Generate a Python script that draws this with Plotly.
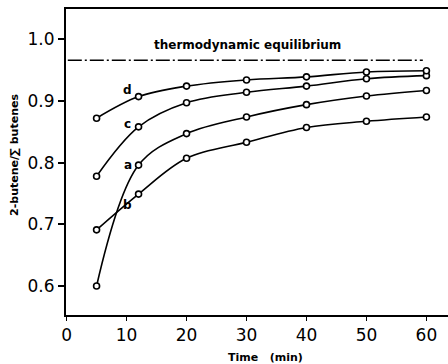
import plotly.graph_objects as go

# Reaction time (min) at which samples were taken
time_min = [5, 12, 20, 30, 40, 50, 60]

# 2-butene / sum of butenes for each run
run_a = [0.600, 0.796, 0.847, 0.874, 0.894, 0.908, 0.917]
run_b = [0.691, 0.749, 0.807, 0.833, 0.857, 0.867, 0.874]
run_c = [0.778, 0.858, 0.897, 0.914, 0.924, 0.936, 0.941]
run_d = [0.872, 0.907, 0.924, 0.934, 0.939, 0.947, 0.949]

runs = {"a": run_a, "b": run_b, "c": run_c, "d": run_d}
label_pos = {"d": 0.918, "c": 0.862, "a": 0.796, "b": 0.732}
label_x = 10.2

equilibrium = 0.966
equilibrium_span = [0.2, 59.4]

x_ticks = [0, 10, 20, 30, 40, 50, 60]
y_ticks = [0.6, 0.7, 0.8, 0.9, 1.0]

LABEL_FONT = "DejaVu Sans"
TICK_FONT = "DejaVu Sans"

fig = go.Figure()

for name, vals in runs.items():
    fig.add_trace(go.Scatter(
        x=time_min, y=vals, mode="lines+markers", name=name,
        line=dict(color="black", width=1.6, shape="spline", smoothing=1.0),
        marker=dict(symbol="circle", size=6, color="white",
                    line=dict(color="black", width=1.6)),
        showlegend=False,
    ))

# equilibrium reference line
fig.add_trace(go.Scatter(
    x=equilibrium_span, y=[equilibrium, equilibrium], mode="lines",
    line=dict(color="black", width=1.4, dash="14px,3px,2px,3px"),
    showlegend=False, hoverinfo="skip",
))

fig.add_annotation(x=30.1, y=0.991, text="<b>thermodynamic equilibrium</b>",
                   showarrow=False, font=dict(family=LABEL_FONT, size=12, color="black"))

for name, yv in label_pos.items():
    fig.add_annotation(x=label_x, y=yv, text=f"<b>{name}</b>", showarrow=False,
                       font=dict(family=LABEL_FONT, size=12, color="black"))

# axis titles
fig.add_annotation(xref="paper", yref="paper", x=0.521, y=-0.1405,
                   text="<b>Time   (min)</b>", showarrow=False,
                   xanchor="center", yanchor="middle",
                   font=dict(family=LABEL_FONT, size=11, color="black"))
fig.add_annotation(xref="paper", yref="paper", x=-0.1335, y=0.523,
                   text="<b>2-butene/∑ butenes</b>", showarrow=False, textangle=-90,
                   xanchor="center", yanchor="middle",
                   font=dict(family=LABEL_FONT, size=11, color="black"))

fig.update_layout(
    width=448, height=364,
    margin=dict(l=66, r=0, t=9, b=49),
    paper_bgcolor="white", plot_bgcolor="white",
    font=dict(family=TICK_FONT, color="black"),
)

fig.update_xaxes(
    range=[-0.1, 63.6], tickvals=x_ticks, ticktext=[str(v) for v in x_ticks],
    showgrid=False, zeroline=False,
    showline=True, linecolor="black", linewidth=2, mirror=True,
    ticks="outside", ticklen=4, tickcolor="black", tickwidth=1.2,
    tickfont=dict(family=TICK_FONT, size=17, color="black"),
)

fig.update_yaxes(
    range=[0.553, 1.049], tickvals=y_ticks, ticktext=[f"{v:.1f}" for v in y_ticks],
    showgrid=False, zeroline=False,
    showline=True, linecolor="black", linewidth=2,
    ticks="outside", ticklen=6, tickcolor="black", tickwidth=1.5,
    tickfont=dict(family=TICK_FONT, size=17, color="black"),
)

fig.write_html("out.html")
